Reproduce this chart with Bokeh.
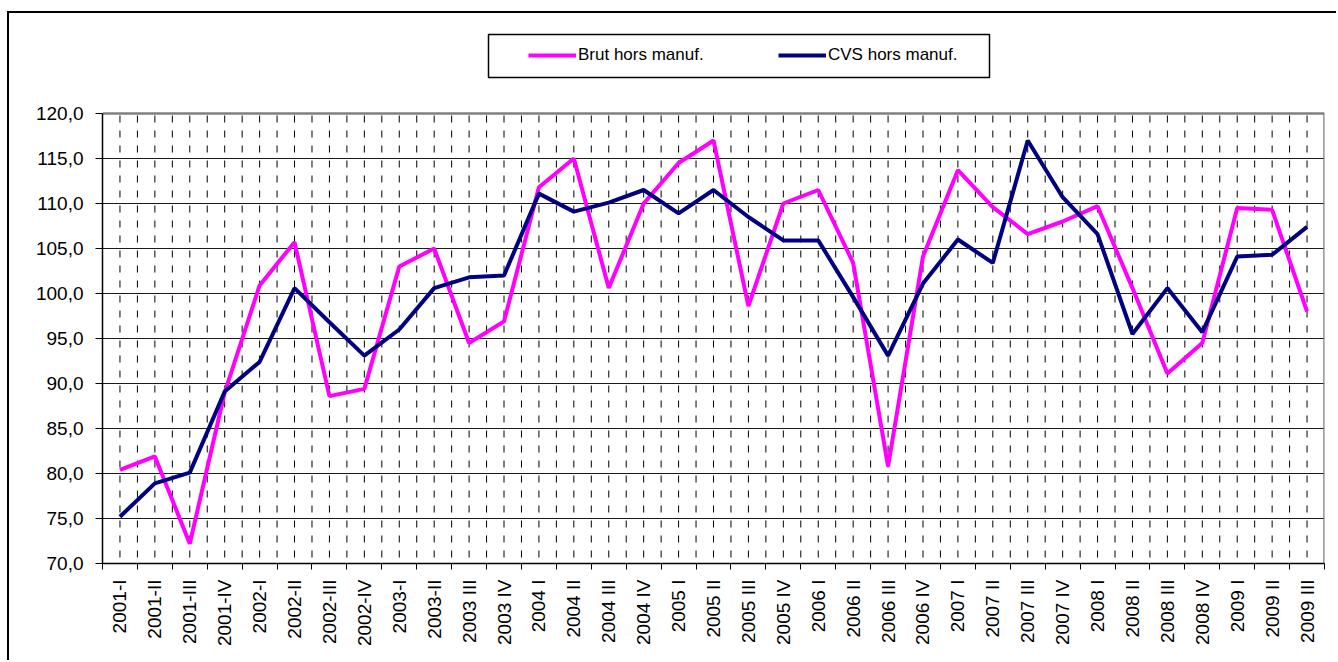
import math
from bokeh.plotting import figure
from bokeh.models import (FixedTicker, CustomJSTickFormatter, Legend, LegendItem,
                          BoxAnnotation, Range1d)
from bokeh.embed import file_html
from bokeh.resources import INLINE

quarters = ["2001-I", "2001-II", "2001-III", "2001-IV",
            "2002-I", "2002-II", "2002-III", "2002-IV",
            "2003-I", "2003-II", "2003 III", "2003 IV",
            "2004 I", "2004 II", "2004 III", "2004 IV",
            "2005 I", "2005 II", "2005 III", "2005 IV",
            "2006 I", "2006 II", "2006 III", "2006 IV",
            "2007 I", "2007 II", "2007 III", "2007 IV",
            "2008 I", "2008 II", "2008 III", "2008 IV",
            "2009 I", "2009 II", "2009 III"]

brut = [80.4, 81.9, 72.2, 89.0,
        100.9, 105.7, 88.6, 89.4,
        103.0, 105.0, 94.5, 96.9,
        111.8, 115.0, 100.6, 110.0,
        114.5, 117.0, 98.6, 110.0,
        111.5, 103.4, 80.8, 104.1,
        113.7, 109.6, 106.6, 108.0,
        109.7, 100.6, 91.1, 94.5,
        109.5, 109.3, 98.0]

cvs = [75.2, 78.9, 80.1, 89.1,
       92.4, 100.6, 96.8, 93.1,
       96.0, 100.6, 101.8, 102.0,
       111.1, 109.1, 110.1, 111.5,
       108.9, 111.5, 108.5, 105.9,
       105.9, 99.6, 93.1, 101.1,
       106.0, 103.4, 117.0, 110.7,
       106.6, 95.5, 100.6, 95.7,
       104.1, 104.3, 107.4]

series_names = ["Brut hors manuf.", "CVS hors manuf."]
y_ticks = [70, 75, 80, 85, 90, 95, 100, 105, 110, 115, 120]

n = len(quarters)
x = [i + 0.5 for i in range(n)]
bounds = list(range(n + 1))
y_lo, y_hi = y_ticks[0], y_ticks[-1]

FONT = "Liberation Sans"
PX_PER_UNIT = 9.0          # 450 px plot height for 50 units
TOP_SPACE = 100            # px between canvas top and the 120 line
y_top = y_hi + TOP_SPACE / PX_PER_UNIT

p = figure(width=1329, height=649,
           x_range=Range1d(0, n), y_range=Range1d(y_lo, y_top),
           output_backend="svg", toolbar_location=None,
           min_border_left=93, min_border_right=14,
           min_border_top=0, min_border_bottom=99)
p.styles = {"margin-left": "7px", "margin-top": "11px",
            "border-left": "2px solid black", "border-top": "2px solid black"}

p.background_fill_color = "white"
p.border_fill_color = "white"
p.outline_line_color = None

xticker = FixedTicker(ticks=x, minor_ticks=bounds)
p.xaxis.ticker = xticker
p.xaxis.formatter = CustomJSTickFormatter(args=dict(labels=quarters),
                                          code="return labels[Math.floor(tick)];")
p.xaxis.major_label_orientation = math.pi / 2
p.xaxis.major_tick_out = 0
p.xaxis.major_tick_in = 0
p.xaxis.minor_tick_out = 6
p.xaxis.minor_tick_in = 0
p.xaxis.minor_tick_line_color = "black"
p.xaxis.minor_tick_line_width = 1
p.xaxis.major_label_standoff = 10

yticker = FixedTicker(ticks=y_ticks, minor_ticks=[])
p.yaxis.ticker = yticker
p.yaxis.bounds = (y_lo, y_hi)
p.yaxis.formatter = CustomJSTickFormatter(code="return tick.toFixed(1).replace('.', ',');")
p.yaxis.major_tick_out = 7
p.yaxis.major_tick_in = 0
p.yaxis.minor_tick_line_color = None
p.yaxis.major_label_standoff = 12

for ax in (p.xaxis, p.yaxis):
    ax.axis_line_color = "black"
    ax.axis_line_width = 1.5
    ax.major_label_text_font = FONT
    ax.major_label_text_font_size = "19px"
    ax.major_label_text_color = "black"
p.yaxis.major_tick_line_color = "black"
p.xaxis.major_tick_line_color = None

p.xgrid.grid_line_color = None
p.xgrid.minor_grid_line_color = None
p.ygrid.ticker = FixedTicker(ticks=y_ticks[1:-1], minor_ticks=[])
p.ygrid.grid_line_color = "#1a1a1a"
p.ygrid.grid_line_width = 1

# vertical dashed grid (category centres and boundaries), limited to the plot area
gx = sorted(set(x) | set(bounds[1:-1]))
p.segment(x0=gx, y0=[y_hi] * len(gx), x1=gx, y1=[y_lo] * len(gx),
          line_color="black", line_width=1, line_dash="7 8", line_dash_offset=13)

# plot-area border (top and right), grey
p.segment(x0=[0, n], y0=[y_hi, y_hi], x1=[n, n], y1=[y_hi, y_lo],
          line_color="#808080", line_width=2.5)

r1 = p.line(x, brut, line_color="#FF00FF", line_width=4)
r2 = p.line(x, cvs, line_color="#000080", line_width=4)

# legend frame (in data units above the 120 line)
unit_x = 1222 / n
legend_box = BoxAnnotation(left=(488 - 102) / unit_x, right=(989 - 102) / unit_x,
                           bottom=y_hi + 36 / PX_PER_UNIT, top=y_hi + 79 / PX_PER_UNIT,
                           fill_alpha=0, line_color="black", line_alpha=1.0,
                           line_width=1.5)
p.add_layout(legend_box)

legend = Legend(items=[LegendItem(label=series_names[0], renderers=[r1]),
                       LegendItem(label=series_names[1], renderers=[r2])],
                orientation="horizontal", location=(416, 488),
                padding=10, spacing=0, label_standoff=2,
                glyph_width=48, glyph_height=20, label_width=200,
                border_line_alpha=0, background_fill_alpha=0,
                label_text_font=FONT, label_text_font_size="17px",
                label_text_color="black")
p.add_layout(legend, "center")

open("out.html", "w").write(file_html(p, INLINE))
